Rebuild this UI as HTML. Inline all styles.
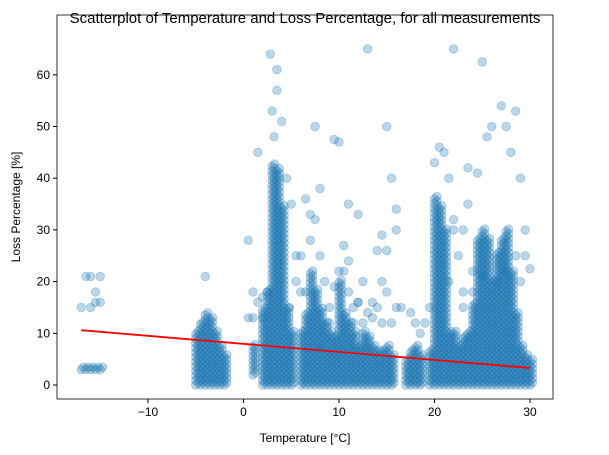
<!DOCTYPE html>
<html><head><meta charset="utf-8"><style>
body{margin:0;background:#fff;}
svg{display:block;font-family:"Liberation Sans",sans-serif;}
</style></head><body>
<svg id="chart" width="609" height="455">
<rect x="0" y="0" width="609" height="455" fill="#fff"/>
<text x="305" y="23" text-anchor="middle" font-size="15">Scatterplot of Temperature and Loss Percentage, for all measurements</text>
<g id="points"></g>
<g id="axes"></g>
<text x="305" y="442" text-anchor="middle" font-size="12">Temperature [°C]</text>
<text x="20" y="207" text-anchor="middle" font-size="12" transform="rotate(-90 20 207)">Loss Percentage [%]</text>
</svg>
<script>
// dense bands: [temperature, lowLoss, highLoss]
const bandTemps = [-17,-16.5,-16,-15.5,-15,-5,-4.5,-4,-3.5,-3,-2.5,-2,1,2,2.5,3,3.5,4,4.5,5,6,6.5,7,7.5,8,8.5,9,9.5,10,10.5,11,11.5,12,12.5,13,13.5,14,14.5,15,15.5,17,17.5,18,18.5,19.5,20,20.5,21,21.5,22,22.5,23,23.5,24,24.5,25,25.5,26,26.5,27,27.5,28,28.5,29,29.5,30];
const bandLow  = [3,3,3,3,3,0,0,0,0,0,0,0,2,0,0,0,0,0,0,0,0,0,0,0,0,0,0,0,0,0,0,0,0,0,0,0,0,0,0,0,0,0,0,0,0,0,0,0,0,0,0,0,0,0,0,0,0,0,0,0,0,0,0,0,0,0];
const bandHigh = [3,3,3,3,3,10,12,14,13,10,8,6,8,15,18,43,42,35,15,10,10,14,22,18,15,12,10,9,20,14,12,10,8,10,9,8,7,7,8,6,5,7,8,6,7,36,35,30,10,10,8,9,10,16,28,30,28,20,26,28,30,22,14,8,6,5];
// scattered outliers: temperature, loss
const outT = [-17,-16.5,-16,-16,-15.5,-15.5,-15,-15,-4,0.5,1,2.5,2.8,3,3.2,3.5,3.5,4,4.5,5,6.5,7,7.5,8,9.5,10,10.5,11,11,12,12.5,13,14,15,15.5,16,16,17.5,18.5,20,20.5,21,21.5,22,22,23,23.5,24.5,25,25.5,26,27,27.5,28,28.5,29,29.5,30,5.5,14.5,
 1,1.5,2,2,5.5,6,6.5,7,8,8.5,9,9.5,10.5,11,11.5,12,12.5,13,13.5,14,14.5,15,15.5,16,9,7.5,11.5,13.5,15,16.5,18,19,19.5,21.5,22.5,23,23,24,24,25,26.5,27.5,28.5,29,29.5,22,23.5,1.5,0.5,8,10,12,14.5,6,4.8];
const outL = [15,21,15,21,16,18,21,16,21,28,18,18,64,53,48,61,57,51,40,35,36,33,50,38,47.5,47,27,35,24,33,20,65,26,50,40,34,30,14,10,43,46,45,40,32,65,30,42,41,62.5,48,50,54,50,45,53,40,30,22.5,25,29,
 13,16,17,13,20,25,18,28,25,20,15,19,22,18,15,16,12,14,13,15,20,18,12,15,12,32,12,16,26,15,12,12,15,20,25,18,15,22,18,21,20,22,25,20,25,30,35,45,13,7,22,16,12,18,15,20];
// regression line endpoints
const lineT = [-17,30];
const lineL = [10.6,3.3];
const xTicks = [-10,0,10,20,30];
const yTicks = [0,10,20,30,40,50,60];

const NS="http://www.w3.org/2000/svg";
const L=57,R=553,T=15,B=399;
function xs(t){return 243.5+t*9.55;}
function ys(v){return 385-v*5.17;}
const pg=document.getElementById('points');
function dot(t,v){
  const c=document.createElementNS(NS,'circle');
  c.setAttribute('cx',xs(t));c.setAttribute('cy',ys(v));c.setAttribute('r',4.3);
  c.setAttribute('fill','#1f77b4');c.setAttribute('fill-opacity','0.3');
  c.setAttribute('stroke','#1f77b4');c.setAttribute('stroke-opacity','0.3');c.setAttribute('stroke-width','0.8');
  
  
  pg.appendChild(c);
}
for(let i=0;i<bandTemps.length;i++){
  for(let v=bandLow[i];v<=bandHigh[i]+0.01;v+=0.9){dot(bandTemps[i],v);dot(bandTemps[i]+0.25,v+0.45);}
}
for(let i=0;i<outT.length;i++)dot(outT[i],outL[i]);
const ln=document.createElementNS(NS,'line');
ln.setAttribute('x1',xs(lineT[0]));ln.setAttribute('y1',ys(lineL[0]));
ln.setAttribute('x2',xs(lineT[1]));ln.setAttribute('y2',ys(lineL[1]));
ln.setAttribute('stroke','#ff0000');ln.setAttribute('stroke-width','1.8');


pg.appendChild(ln);
const ax=document.getElementById('axes');
const fr=document.createElementNS(NS,'rect');
fr.setAttribute('x',L);fr.setAttribute('y',T);fr.setAttribute('width',R-L);fr.setAttribute('height',B-T);
fr.setAttribute('fill','none');fr.setAttribute('stroke','#000');fr.setAttribute('stroke-width','0.8');


ax.appendChild(fr);
xTicks.forEach(t=>{
  const x=xs(t);
  const l=document.createElementNS(NS,'line');
  l.setAttribute('x1',x);l.setAttribute('x2',x);l.setAttribute('y1',B);l.setAttribute('y2',B+4);l.setAttribute('stroke','#000');
  ax.appendChild(l);
  const tx=document.createElementNS(NS,'text');
  tx.setAttribute('x',x);tx.setAttribute('y',B+17);tx.setAttribute('text-anchor','middle');tx.setAttribute('font-size','12');
  tx.textContent=t<0?'\u2212'+(-t):t;
  
  
  ax.appendChild(tx);
});
yTicks.forEach(v=>{
  const y=ys(v);
  const l=document.createElementNS(NS,'line');
  l.setAttribute('x1',L-4);l.setAttribute('x2',L);l.setAttribute('y1',y);l.setAttribute('y2',y);l.setAttribute('stroke','#000');
  ax.appendChild(l);
  const tx=document.createElementNS(NS,'text');
  tx.setAttribute('x',L-7);tx.setAttribute('y',y+4);tx.setAttribute('text-anchor','end');tx.setAttribute('font-size','12');
  tx.textContent=v;
  
  
  ax.appendChild(tx);
});
</script>
</body></html>
